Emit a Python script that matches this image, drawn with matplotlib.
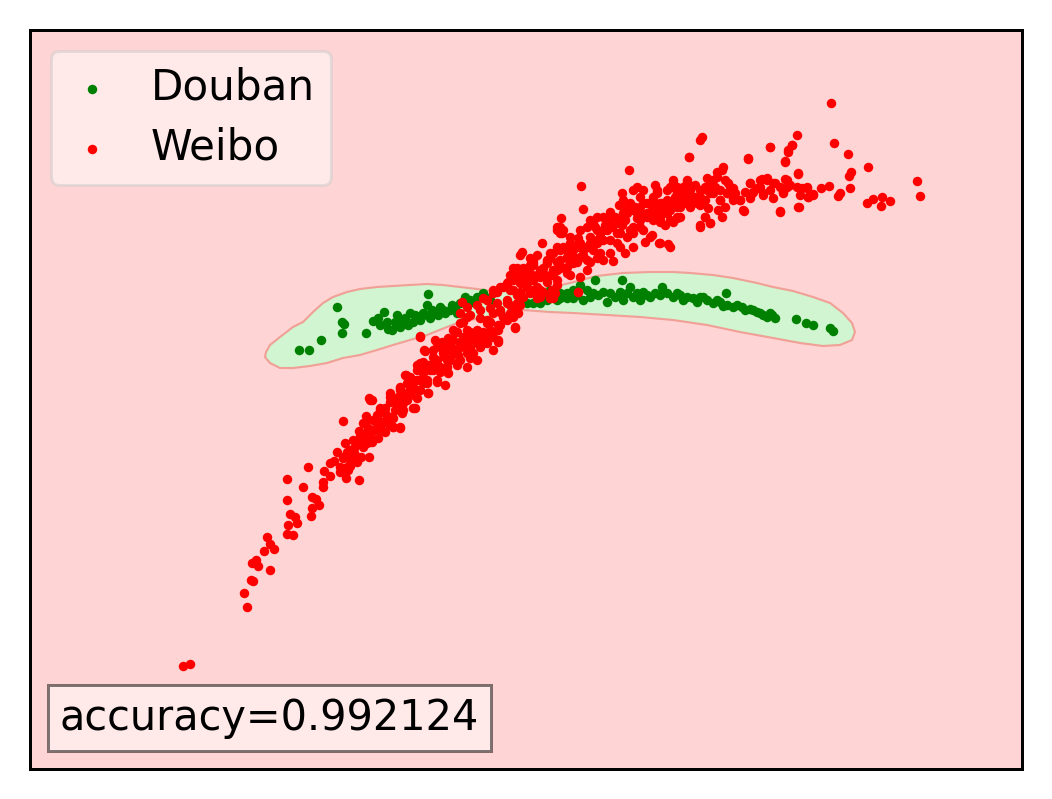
import numpy as np
import matplotlib.pyplot as plt

# point positions (x right, y down, as in the picture)
douban_pts = np.array([
    (299, 350), (309, 350), (321, 340), (337, 307), (342, 322), (344, 324), (342, 333),
    (366, 333), (373, 321), (378, 318), (384, 312), (387, 322), (388, 329), (392, 330),
    (397, 315), (400, 327), (403, 320), (410, 313), (413, 322), (417, 317), (423, 313),
    (427, 305), (428, 294), (430, 318), (435, 312), (440, 307), (445, 313), (452, 305),
    (460, 303), (457, 313), (465, 297), (473, 302), (483, 293), (490, 300), (527, 303),
    (533, 303), (543, 298), (550, 290), (557, 300),
    (380, 325), (395, 322), (405, 318), (408, 325), (415, 315), (420, 320), (427, 315),
    (432, 310), (438, 315), (443, 310), (450, 310), (455, 307), (470, 300), (477, 297),
    (485, 297),
    (595, 280), (622, 280), (580, 285), (573, 290), (567, 293), (560, 293), (553, 297),
    (547, 300), (540, 303), (587, 290), (593, 293), (603, 292), (610, 293), (620, 292),
    (630, 287), (637, 293), (647, 295), (655, 293), (662, 287), (667, 293), (673, 297),
    (680, 295), (687, 297), (693, 298), (700, 297), (707, 300), (713, 303), (720, 302),
    (726, 293), (727, 305), (733, 307), (742, 307), (750, 309), (757, 312), (763, 315),
    (770, 313), (775, 318), (796, 319), (806, 323), (813, 325), (830, 328), (833, 331),
    (607, 302), (623, 300), (640, 300), (583, 300), (573, 298),
    (560, 298), (567, 298), (577, 295), (590, 297), (598, 295), (615, 297), (627, 293),
    (633, 297), (643, 292), (650, 297), (660, 295), (677, 293), (683, 300), (697, 302),
    (703, 297), (717, 300), (723, 306), (737, 305), (745, 310), (753, 310), (760, 313),
    (767, 317), (772, 315),
])

weibo_pts = np.array([
    (183, 666), (190, 664),
    (247, 607), (244, 593), (253, 581), (251, 580), (270, 570), (258, 566), (252, 563),
    (256, 560), (264, 551), (274, 549), (270, 544), (267, 537), (287, 534), (293, 535),
    (288, 525), (297, 523), (295, 517), (290, 514), (311, 516), (312, 508), (319, 505),
    (287, 500), (316, 499), (312, 497), (303, 487), (323, 487), (323, 482), (287, 479),
    (308, 467), (330, 476), (324, 471), (346, 478), (359, 480), (348, 470), (330, 463),
    (334, 461), (340, 467), (343, 458), (347, 452), (354, 453), (361, 457), (369, 457),
    (345, 443), (361, 440), (367, 443), (372, 442), (359, 431), (367, 433), (373, 430),
    (377, 423), (365, 423), (366, 416), (343, 421), (383, 422), (390, 425), (400, 428),
    (393, 418), (380, 410), (385, 408), (369, 398), (372, 400), (390, 393), (390, 402),
    (400, 387), (398, 397), (407, 400), (415, 408), (402, 413), (410, 387), (417, 390),
    (428, 393), (423, 383), (437, 382), (413, 380), (380, 430), (370, 437), (387, 417),
    (397, 407), (407, 393), (403, 403), (417, 398), (393, 400), (377, 417), (363, 447),
    (350, 460), (354, 448),
    (363, 423), (373, 430), (367, 437), (360, 443), (350, 450), (343, 457), (347, 467),
    (355, 455), (380, 427), (387, 423), (393, 427),
    (377, 415), (385, 413), (395, 410), (405, 397), (410, 395), (417, 380), (423, 367),
    (433, 363), (437, 343), (445, 357), (452, 348), (458, 355), (463, 345), (470, 348),
    (475, 338), (483, 343), (487, 335), (385, 432), (378, 438), (368, 428), (360, 436),
    (353, 440), (357, 462), (350, 466), (340, 472), (337, 452),
    (373, 420), (373, 430), (380, 423), (383, 410), (390, 417), (393, 427), (400, 427),
    (390, 397), (397, 403), (403, 410), (413, 408), (400, 390), (407, 383), (413, 387),
    (420, 390), (410, 377), (417, 370), (423, 373), (427, 380), (420, 363), (428, 365),
    (433, 370), (440, 372), (428, 393), (437, 360), (443, 353), (450, 360), (447, 367),
    (457, 363), (425, 351), (440, 347), (447, 343), (453, 340), (460, 347), (467, 353),
    (470, 358), (463, 337), (470, 340), (477, 343), (477, 333), (483, 337), (490, 333),
    (498, 342), (453, 330), (420, 337), (405, 375), (380, 408), (370, 400),
    (420, 336), (424, 350), (406, 375), (417, 365), (423, 362), (433, 357), (442, 342),
    (447, 350), (440, 367), (430, 370), (420, 380), (410, 383), (400, 388), (427, 383),
    (437, 380), (448, 373), (457, 365), (453, 353), (460, 343), (455, 332), (460, 323),
    (467, 330), (473, 337), (467, 350), (460, 360), (445, 385), (473, 353), (480, 347),
    (477, 330), (467, 317), (460, 313), (467, 307), (462, 302), (480, 310), (487, 320),
    (490, 330), (493, 337), (498, 330), (498, 325), (515, 328), (498, 340), (487, 300),
    (493, 293), (503, 287), (508, 282), (513, 290), (507, 300), (500, 310), (510, 313),
    (517, 303), (523, 297), (518, 313), (527, 283), (533, 277), (543, 273), (553, 275),
    (533, 290), (540, 297), (550, 297), (553, 290), (557, 280), (520, 272), (507, 320),
    (493, 350), (487, 343), (477, 360), (467, 367), (433, 350), (447, 360), (435, 340),
    (448, 338),
    (457, 332), (463, 322), (470, 315), (477, 305), (483, 298), (490, 308), (480, 318),
    (470, 332), (460, 342), (483, 332), (500, 312), (497, 292), (507, 285), (517, 295),
    (520, 305), (510, 305), (527, 288), (527, 275), (533, 265), (530, 258), (540, 272),
    (547, 262), (550, 275), (557, 285), (543, 292), (537, 298), (550, 298), (553, 298),
    (560, 268), (567, 258), (570, 275), (577, 262), (583, 255), (590, 262), (597, 258),
    (578, 292), (517, 268), (520, 278), (510, 275), (490, 322), (517, 312), (513, 268),
    (520, 255),
    (527, 270), (533, 260), (540, 270), (547, 263), (553, 253), (560, 250), (567, 257),
    (573, 250), (580, 243), (587, 247), (593, 240), (600, 237), (607, 230), (613, 223),
    (620, 220), (627, 213), (633, 210), (640, 207), (647, 203), (653, 207), (660, 203),
    (667, 200), (673, 203), (680, 200), (687, 197), (593, 223), (603, 217), (597, 230),
    (610, 240), (617, 233), (620, 247), (627, 237), (633, 227), (640, 220), (647, 217),
    (653, 220), (660, 217), (667, 213), (677, 217), (630, 203), (640, 197), (643, 190),
    (653, 200), (657, 193), (667, 190), (673, 183), (677, 193), (683, 187), (687, 180),
    (560, 267), (567, 273), (573, 263), (580, 257), (587, 260), (547, 277), (553, 270),
    (533, 280), (520, 283), (587, 270), (580, 277), (600, 253), (570, 237), (563, 230),
    (557, 227), (560, 233),
    (530, 265), (537, 275), (543, 268), (550, 258), (557, 262), (563, 247), (570, 252),
    (577, 245), (583, 250), (590, 243), (597, 243), (603, 240), (605, 225), (612, 227),
    (615, 217), (622, 225), (625, 220), (630, 230), (637, 213), (643, 215), (650, 212),
    (657, 210), (663, 205), (670, 210), (675, 197), (683, 195), (690, 190), (695, 185),
    (700, 190), (705, 200), (715, 187), (725, 180), (735, 193), (745, 192), (757, 188),
    (770, 190), (790, 185), (800, 195),
    (657, 207), (663, 213), (670, 203), (677, 207), (683, 203), (690, 207), (697, 203),
    (700, 197), (707, 190), (710, 183), (717, 177), (722, 170), (713, 193), (720, 200),
    (727, 193), (730, 187), (733, 200), (740, 200), (670, 187), (677, 190), (657, 190),
    (653, 197), (660, 220), (670, 220), (677, 218), (705, 217), (700, 227), (710, 223),
    (760, 180), (767, 178), (773, 183), (780, 187), (783, 193), (787, 180), (763, 193),
    (750, 183), (752, 193), (750, 198), (743, 210), (780, 212), (798, 207), (797, 187),
    (807, 188), (813, 195), (808, 197), (798, 173), (785, 162), (788, 150), (792, 145),
    (770, 147), (748, 158), (689, 157), (687, 183), (670, 247), (660, 243), (650, 237),
    (700, 140),
    (831, 103), (702, 137), (797, 135), (834, 143), (770, 147), (792, 145), (788, 152),
    (848, 154), (689, 157), (748, 159), (785, 161), (868, 167), (851, 172), (849, 176),
    (798, 174), (629, 170), (723, 167), (717, 172), (917, 181), (920, 196), (581, 186),
    (802, 188), (807, 187), (821, 188), (829, 186), (850, 188), (840, 193), (838, 196),
    (813, 194), (808, 197), (867, 203), (873, 199), (882, 197), (890, 201), (881, 206),
    (799, 207), (780, 211), (744, 211), (750, 183), (762, 179), (767, 180), (775, 183),
    (785, 179), (787, 187), (760, 187), (753, 192), (763, 195), (773, 198), (783, 192),
    (740, 200), (733, 198), (728, 183), (733, 188), (727, 193), (720, 190), (713, 180),
    (707, 178), (705, 187), (710, 193), (720, 200), (725, 207), (718, 210), (722, 217),
    (710, 223), (700, 225), (705, 217), (708, 208), (700, 205), (693, 200), (687, 203),
    (695, 197), (687, 182), (677, 187), (678, 193), (672, 187), (673, 180), (655, 185),
    (657, 192), (637, 187), (633, 190), (622, 193), (623, 200), (619, 205), (680, 207),
    (670, 203), (662, 203), (653, 207), (643, 203), (635, 207), (627, 208), (583, 209),
    (610, 212), (623, 213), (667, 213), (680, 217), (673, 222), (665, 225), (660, 222),
    (653, 217), (647, 213), (637, 218), (640, 227), (633, 233), (643, 230), (652, 235),
    (659, 243), (668, 244), (645, 242), (633, 247), (625, 253), (613, 261), (603, 260),
    (610, 253), (617, 243), (620, 233), (617, 223), (610, 220), (597, 217), (590, 220),
    (587, 227), (595, 227), (603, 230), (600, 237), (590, 237), (580, 230), (578, 238),
    (577, 247), (587, 247), (593, 250), (583, 257), (573, 257), (567, 250), (570, 243),
    (562, 233), (560, 227), (561, 218), (557, 230), (542, 243), (557, 247), (550, 253),
    (560, 260), (567, 267), (557, 270), (547, 260), (537, 255), (533, 263), (522, 252),
    (523, 268), (517, 272), (530, 273), (540, 277), (547, 282), (537, 287), (523, 283),
    (513, 280), (507, 283), (500, 287), (493, 290), (510, 290), (520, 292), (530, 293),
    (540, 290), (552, 290), (550, 298), (555, 293), (578, 292), (515, 307), (507, 303),
    (497, 303), (487, 300), (493, 313), (503, 317), (513, 317), (517, 310), (487, 323),
    (500, 325), (515, 327),
])

# outline of the region the classifier gives to Douban
region_outline = np.array([
    (266, 352), (270, 345), (280, 337), (293, 327), (303, 322), (313, 312), (323, 303),
    (333, 297), (347, 292), (360, 289), (377, 287), (393, 286), (410, 285), (427, 284),
    (443, 285), (460, 287), (477, 289), (490, 291), (510, 291), (530, 290), (547, 288),
    (570, 283), (597, 276), (623, 273), (650, 272), (673, 272), (690, 273), (713, 275),
    (733, 278), (757, 283), (773, 287), (793, 291), (813, 297), (830, 303), (843, 313),
    (852, 323), (855, 332), (852, 340), (840, 345), (823, 346), (800, 343), (773, 338),
    (740, 332), (707, 325), (673, 320), (640, 317), (607, 315), (573, 313), (550, 312),
    (523, 310), (500, 314), (483, 318), (463, 321), (447, 327), (427, 335), (410, 340),
    (393, 345), (377, 350), (360, 355), (343, 358), (327, 363), (310, 366), (293, 368),
    (280, 368), (270, 363), (265, 357),
])

accuracy = 0.992124

fig = plt.figure(figsize=(1052 / 216, 799 / 216), dpi=216)
ax = fig.add_axes([30 / 1052, 30 / 799, 992 / 1052, 739 / 799])
ax.set_facecolor('#ffd4d4')

ax.fill(region_outline[:, 0], region_outline[:, 1], facecolor='#d0f5d0',
        edgecolor='#f0a096', linewidth=0.7)

ax.scatter(douban_pts[:, 0], douban_pts[:, 1], s=10, c='green', linewidths=0, label='Douban')
ax.scatter(weibo_pts[:, 0], weibo_pts[:, 1], s=10, c='red', linewidths=0, label='Weibo')

ax.set_xlim(30, 1022)
ax.set_ylim(769, 30)
ax.set_xticks([])
ax.set_yticks([])
for sp in ax.spines.values():
    sp.set_linewidth(1.0)

ax.legend(loc='upper left', framealpha=0.5, fontsize=14, handlelength=1.2,
          borderpad=0.38, labelspacing=0.42)

ax.text(0.03, 0.04, 'accuracy=%f' % accuracy, transform=ax.transAxes, fontsize=13.85,
        ha='left', va='bottom', bbox=dict(facecolor='white', alpha=0.5))

fig.savefig('out.png', dpi=216)
